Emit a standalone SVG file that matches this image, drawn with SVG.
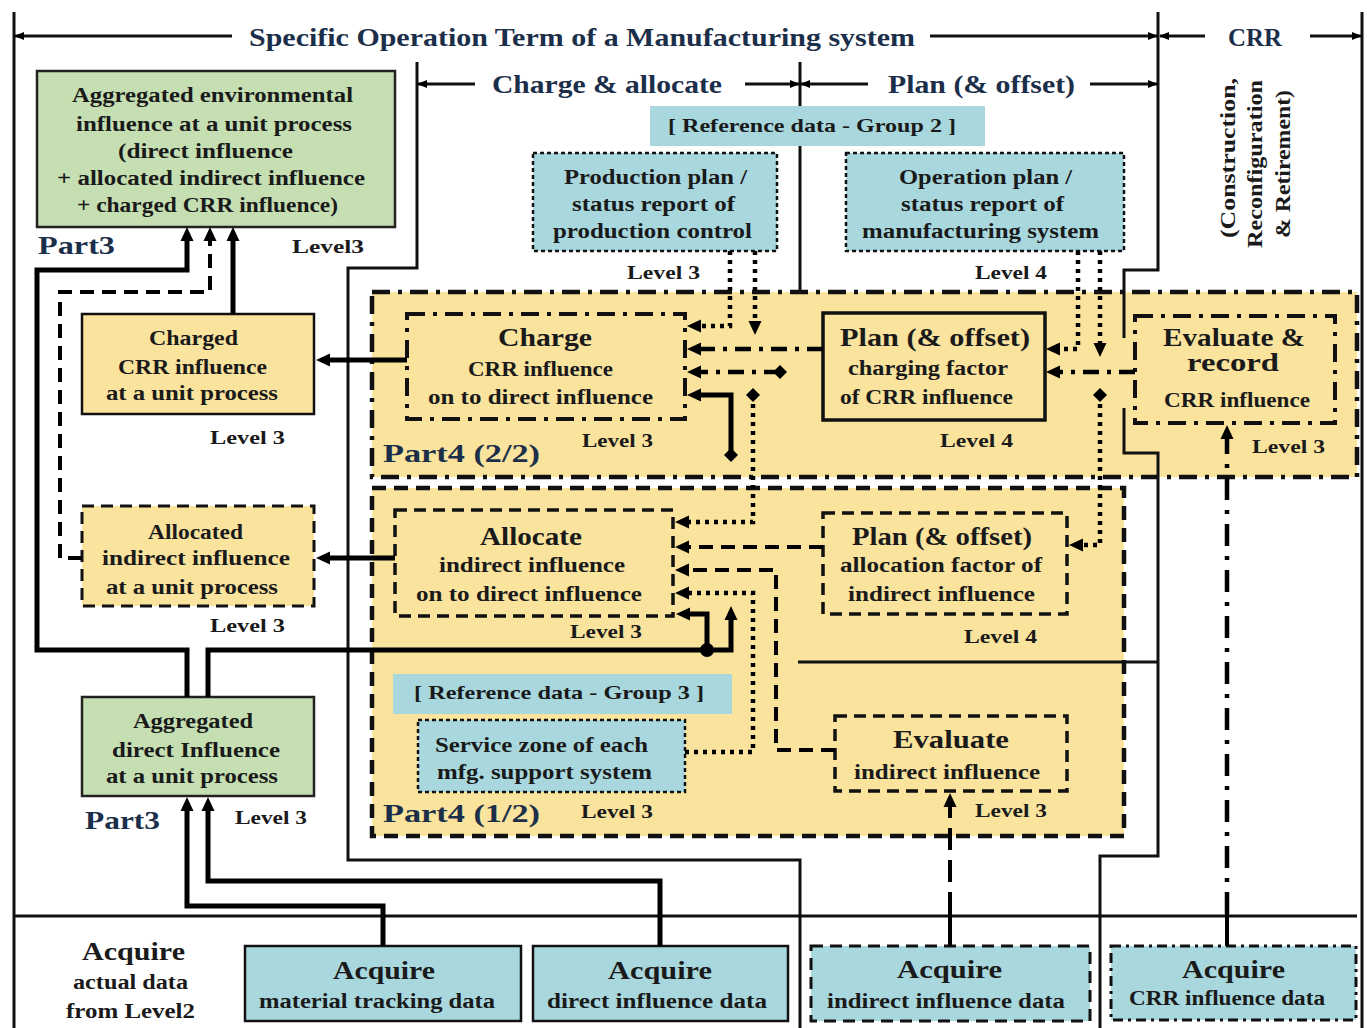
<svg xmlns="http://www.w3.org/2000/svg" width="1367" height="1028" viewBox="0 0 1367 1028">
<defs>
<style>
text{font-family:"Liberation Serif","DejaVu Serif",serif;font-weight:bold;fill:#1a1a1a}
.h{font-size:26px;fill:#1c2f4a}
.b{font-size:25px}
.p{font-size:25px;fill:#1c2f4a}
.m{font-size:20px}
.l{font-size:18px}
.r{font-size:19px}
.frame{fill:none;stroke:#111;stroke-width:3}
.yel{fill:#f9e39d}
.grn{fill:#c5dfb3;stroke:#222;stroke-width:2.5}
.cyn{fill:#a8d8de}
.box-s{fill:none;stroke:#111;stroke-width:2.5}
.box-d{fill:none;stroke:#111;stroke-width:3.5;stroke-dasharray:12 7}
.box-o{fill:none;stroke:#111;stroke-width:2.5;stroke-dasharray:4 3}
.box-dd{fill:none;stroke:#111;stroke-width:4;stroke-dasharray:18 8 4 8}
.c{fill:none;stroke:#000;stroke-width:5}
.cd{fill:none;stroke:#000;stroke-width:4;stroke-dasharray:14 8}
.co{fill:none;stroke:#000;stroke-width:4.5;stroke-dasharray:4 5}
.cdd{fill:none;stroke:#000;stroke-width:4.5;stroke-dasharray:16 8 4 8}
.ct{fill:none;stroke:#000;stroke-width:4}
</style>
<marker id="ar" viewBox="0 0 14 14" refX="2" refY="7" markerWidth="14" markerHeight="14" markerUnits="userSpaceOnUse" orient="auto"><path d="M0,0.5 L14,7 L0,13.5 z" fill="#000"/></marker>
<marker id="as" viewBox="0 0 10 10" refX="9" refY="5" markerWidth="10" markerHeight="10" markerUnits="userSpaceOnUse" orient="auto"><path d="M0,1 L10,5 L0,9 z" fill="#000"/></marker>
<marker id="dm" viewBox="0 0 14 14" refX="7" refY="7" markerWidth="14" markerHeight="15" markerUnits="userSpaceOnUse" orient="auto"><path d="M7,0 L14,7 L7,14 L0,7 z" fill="#000"/></marker>
</defs>

<!-- container regions -->
<g id="part4-2">
<rect class="yel" x="372" y="292" width="985" height="185"/>
<rect class="box-dd" x="372" y="292" width="985" height="185" style="stroke-width:4.5"/>
<text class="p" x="383" y="462" textLength="157" lengthAdjust="spacingAndGlyphs">Part4 (2/2)</text>
</g>
<g id="part4-1">
<rect class="yel" x="372" y="488" width="752" height="348"/>
<rect class="box-d" x="372" y="488" width="752" height="348" style="stroke-width:4.5;stroke-dasharray:14 8"/>
<text class="p" x="383" y="822" textLength="157" lengthAdjust="spacingAndGlyphs">Part4 (1/2)</text>
</g>

<!-- frame / term boundaries -->
<g id="frame">
<path class="frame" d="M14,12 V1028"/>
<path class="frame" d="M1362,12 V1028"/>
<path class="frame" d="M1158,12 V270 H1124 V338"/>
<path class="frame" d="M1124,408 V453 H1158 V856 H1100 V1028"/>
<path class="frame" d="M417,62 V268 H348 V860 H800 V1028"/>
<path class="frame" d="M800,62 V292"/>
<path class="frame" d="M798,662 H1158"/>
<path class="frame" d="M14,916 H1357"/>
<path class="frame" d="M232,36 H15" marker-end="url(#as)"/>
<path class="frame" d="M930,36 H1157" marker-end="url(#as)"/>
<path class="frame" d="M1205,36 H1160" marker-end="url(#as)"/>
<path class="frame" d="M1310,36 H1361" marker-end="url(#as)"/>
<path class="frame" d="M475,84 H418" marker-end="url(#as)"/>
<path class="frame" d="M745,84 H799" marker-end="url(#as)"/>
<path class="frame" d="M868,84 H801" marker-end="url(#as)"/>
<path class="frame" d="M1090,84 H1157" marker-end="url(#as)"/>
<text class="h" x="249" y="46" textLength="666" lengthAdjust="spacingAndGlyphs">Specific Operation Term of a Manufacturing system</text>
<text class="h" x="1228" y="46" textLength="54" lengthAdjust="spacingAndGlyphs">CRR</text>
<text class="h" x="492" y="93" textLength="230" lengthAdjust="spacingAndGlyphs">Charge &amp; allocate</text>
<text class="h" x="888" y="93" textLength="187" lengthAdjust="spacingAndGlyphs">Plan (&amp; offset)</text>
<text class="m" text-anchor="middle" transform="translate(1235,158) rotate(-90)" textLength="160" lengthAdjust="spacingAndGlyphs">(Construction,</text>
<text class="m" text-anchor="middle" transform="translate(1262,164) rotate(-90)" textLength="168" lengthAdjust="spacingAndGlyphs">Reconfiguration</text>
<text class="m" text-anchor="middle" transform="translate(1290,164) rotate(-90)" textLength="148" lengthAdjust="spacingAndGlyphs">&amp; Retirement)</text>
</g>

<!-- nodes -->
<g id="agg-env">
<rect class="grn" x="37" y="71" width="358" height="156"/>
<text class="m" x="72" y="102" textLength="281" lengthAdjust="spacingAndGlyphs">Aggregated environmental</text>
<text class="m" x="76" y="131" textLength="276" lengthAdjust="spacingAndGlyphs">influence at a unit process</text>
<text class="m" x="118" y="158" textLength="175" lengthAdjust="spacingAndGlyphs">(direct influence</text>
<text class="m" x="57" y="185" textLength="308" lengthAdjust="spacingAndGlyphs">+ allocated indirect influence</text>
<text class="m" x="77" y="212" textLength="261" lengthAdjust="spacingAndGlyphs">+ charged CRR influence)</text>
<text class="h" x="38" y="254" textLength="77" lengthAdjust="spacingAndGlyphs">Part3</text>
<text class="l" x="292" y="253" textLength="72" lengthAdjust="spacingAndGlyphs">Level3</text>
</g>

<g id="charged">
<rect class="yel" x="82" y="314" width="232" height="100"/>
<rect class="box-s" x="82" y="314" width="232" height="100"/>
<text class="m" x="149" y="345" textLength="89" lengthAdjust="spacingAndGlyphs">Charged</text>
<text class="m" x="118" y="374" textLength="149" lengthAdjust="spacingAndGlyphs">CRR influence</text>
<text class="m" x="106" y="400" textLength="172" lengthAdjust="spacingAndGlyphs">at a unit process</text>
<text class="l" x="210" y="444" textLength="75" lengthAdjust="spacingAndGlyphs">Level 3</text>
</g>

<g id="allocated">
<rect class="yel" x="82" y="506" width="232" height="100"/>
<rect class="box-d" x="82" y="506" width="232" height="100" style="stroke-width:3"/>
<text class="m" x="148" y="539" textLength="95" lengthAdjust="spacingAndGlyphs">Allocated</text>
<text class="m" x="102" y="565" textLength="188" lengthAdjust="spacingAndGlyphs">indirect influence</text>
<text class="m" x="106" y="594" textLength="172" lengthAdjust="spacingAndGlyphs">at a unit process</text>
<text class="l" x="210" y="632" textLength="75" lengthAdjust="spacingAndGlyphs">Level 3</text>
</g>

<g id="agg-direct">
<rect class="grn" x="82" y="697" width="232" height="99"/>
<text class="m" x="133" y="728" textLength="120" lengthAdjust="spacingAndGlyphs">Aggregated</text>
<text class="m" x="112" y="757" textLength="168" lengthAdjust="spacingAndGlyphs">direct Influence</text>
<text class="m" x="106" y="783" textLength="172" lengthAdjust="spacingAndGlyphs">at a unit process</text>
<text class="h" x="85" y="829" textLength="75" lengthAdjust="spacingAndGlyphs">Part3</text>
<text class="l" x="235" y="824" textLength="72" lengthAdjust="spacingAndGlyphs">Level 3</text>
</g>

<g id="acquire-actual">
<text class="b" x="82" y="960" textLength="103" lengthAdjust="spacingAndGlyphs">Acquire</text>
<text class="m" x="73" y="989" textLength="115" lengthAdjust="spacingAndGlyphs">actual data</text>
<text class="m" x="66" y="1018" textLength="129" lengthAdjust="spacingAndGlyphs">from Level2</text>
</g>

<g id="acquire-material">
<rect class="cyn" x="245" y="946" width="276" height="75"/>
<rect class="box-s" x="245" y="946" width="276" height="75"/>
<text class="b" x="333" y="979" textLength="102" lengthAdjust="spacingAndGlyphs">Acquire</text>
<text class="m" x="259" y="1008" textLength="236" lengthAdjust="spacingAndGlyphs">material tracking data</text>
</g>

<g id="acquire-direct">
<rect class="cyn" x="533" y="946" width="255" height="75"/>
<rect class="box-s" x="533" y="946" width="255" height="75"/>
<text class="b" x="608" y="979" textLength="104" lengthAdjust="spacingAndGlyphs">Acquire</text>
<text class="m" x="547" y="1008" textLength="220" lengthAdjust="spacingAndGlyphs">direct influence data</text>
</g>

<g id="acquire-indirect">
<rect class="cyn" x="811" y="946" width="279" height="75"/>
<rect class="box-d" x="811" y="946" width="279" height="75" style="stroke-width:3"/>
<text class="b" x="897" y="978" textLength="105" lengthAdjust="spacingAndGlyphs">Acquire</text>
<text class="m" x="827" y="1008" textLength="238" lengthAdjust="spacingAndGlyphs">indirect influence data</text>
</g>

<g id="acquire-crr">
<rect class="cyn" x="1111" y="946" width="245" height="74"/>
<rect class="box-dd" x="1111" y="946" width="245" height="74" style="stroke-width:3;stroke-dasharray:10 5 3 5"/>
<text class="b" x="1182" y="978" textLength="103" lengthAdjust="spacingAndGlyphs">Acquire</text>
<text class="m" x="1129" y="1005" textLength="196" lengthAdjust="spacingAndGlyphs">CRR influence data</text>
</g>

<g id="ref-group2">
<rect class="cyn" x="650" y="106" width="335" height="40"/>
<text class="r" x="668" y="132" textLength="288" lengthAdjust="spacingAndGlyphs">[ Reference data - Group 2 ]</text>
</g>

<g id="production-plan">
<rect class="cyn" x="533" y="153" width="244" height="98"/>
<rect class="box-o" x="533" y="153" width="244" height="98"/>
<text class="m" x="564" y="184" textLength="183" lengthAdjust="spacingAndGlyphs">Production plan /</text>
<text class="m" x="572" y="211" textLength="163" lengthAdjust="spacingAndGlyphs">status report of</text>
<text class="m" x="553" y="238" textLength="199" lengthAdjust="spacingAndGlyphs">production control</text>
<text class="l" x="627" y="279" textLength="73" lengthAdjust="spacingAndGlyphs">Level 3</text>
</g>

<g id="operation-plan">
<rect class="cyn" x="846" y="153" width="278" height="98"/>
<rect class="box-o" x="846" y="153" width="278" height="98"/>
<text class="m" x="899" y="184" textLength="173" lengthAdjust="spacingAndGlyphs">Operation plan /</text>
<text class="m" x="901" y="211" textLength="163" lengthAdjust="spacingAndGlyphs">status report of</text>
<text class="m" x="862" y="238" textLength="237" lengthAdjust="spacingAndGlyphs">manufacturing system</text>
<text class="l" x="975" y="279" textLength="72" lengthAdjust="spacingAndGlyphs">Level 4</text>
</g>

<g id="charge">
<rect class="box-dd" x="407" y="314" width="278" height="105"/>
<text class="b" x="498" y="346" textLength="94" lengthAdjust="spacingAndGlyphs">Charge</text>
<text class="m" x="468" y="376" textLength="145" lengthAdjust="spacingAndGlyphs">CRR influence</text>
<text class="m" x="428" y="404" textLength="225" lengthAdjust="spacingAndGlyphs">on to direct influence</text>
<text class="l" x="582" y="447" textLength="71" lengthAdjust="spacingAndGlyphs">Level 3</text>
</g>

<g id="plan-charging">
<rect class="box-s" x="823" y="313" width="222" height="107" style="stroke-width:3.5"/>
<text class="b" x="840" y="346" textLength="190" lengthAdjust="spacingAndGlyphs">Plan (&amp; offset)</text>
<text class="m" x="848" y="375" textLength="160" lengthAdjust="spacingAndGlyphs">charging factor</text>
<text class="m" x="840" y="404" textLength="173" lengthAdjust="spacingAndGlyphs">of CRR influence</text>
<text class="l" x="940" y="447" textLength="73" lengthAdjust="spacingAndGlyphs">Level 4</text>
</g>

<g id="evaluate-record">
<rect class="box-dd" x="1135" y="316" width="200" height="107"/>
<text class="b" x="1163" y="346" textLength="142" lengthAdjust="spacingAndGlyphs">Evaluate &amp;</text>
<text class="b" x="1187" y="371" textLength="92" lengthAdjust="spacingAndGlyphs">record</text>
<text class="m" x="1164" y="407" textLength="146" lengthAdjust="spacingAndGlyphs">CRR influence</text>
<text class="l" x="1252" y="453" textLength="73" lengthAdjust="spacingAndGlyphs">Level 3</text>
</g>

<g id="allocate">
<rect class="box-d" x="395" y="510" width="278" height="106"/>
<text class="b" x="480" y="545" textLength="102" lengthAdjust="spacingAndGlyphs">Allocate</text>
<text class="m" x="439" y="572" textLength="186" lengthAdjust="spacingAndGlyphs">indirect influence</text>
<text class="m" x="416" y="601" textLength="226" lengthAdjust="spacingAndGlyphs">on to direct influence</text>
<text class="l" x="570" y="638" textLength="72" lengthAdjust="spacingAndGlyphs">Level 3</text>
</g>

<g id="plan-allocation">
<rect class="box-d" x="823" y="513" width="244" height="101"/>
<text class="b" x="852" y="545" textLength="180" lengthAdjust="spacingAndGlyphs">Plan (&amp; offset)</text>
<text class="m" x="840" y="572" textLength="202" lengthAdjust="spacingAndGlyphs">allocation factor of</text>
<text class="m" x="848" y="601" textLength="187" lengthAdjust="spacingAndGlyphs">indirect influence</text>
<text class="l" x="964" y="643" textLength="73" lengthAdjust="spacingAndGlyphs">Level 4</text>
</g>

<g id="ref-group3">
<rect class="cyn" x="393" y="674" width="339" height="40"/>
<text class="r" x="414" y="699" textLength="290" lengthAdjust="spacingAndGlyphs">[ Reference data - Group 3 ]</text>
</g>

<g id="service-zone">
<rect class="cyn" x="418" y="720" width="267" height="72"/>
<rect class="box-o" x="418" y="720" width="267" height="72"/>
<text class="m" x="435" y="752" textLength="213" lengthAdjust="spacingAndGlyphs">Service zone of each</text>
<text class="m" x="437" y="779" textLength="215" lengthAdjust="spacingAndGlyphs">mfg. support system</text>
<text class="l" x="581" y="818" textLength="72" lengthAdjust="spacingAndGlyphs">Level 3</text>
</g>

<g id="evaluate-indirect">
<rect class="box-d" x="835" y="716" width="232" height="75"/>
<text class="b" x="893" y="748" textLength="116" lengthAdjust="spacingAndGlyphs">Evaluate</text>
<text class="m" x="854" y="779" textLength="186" lengthAdjust="spacingAndGlyphs">indirect influence</text>
<text class="l" x="975" y="817" textLength="72" lengthAdjust="spacingAndGlyphs">Level 3</text>
</g>

<!-- connectors -->
<g id="connectors">
<path class="c" d="M187,697 V650 H37 V270 H187 V239" marker-end="url(#ar)"/>
<path class="c" d="M208,697 V650 H731 V618" marker-end="url(#ar)"/>
<path class="c" d="M707,650 V614 H688" marker-end="url(#ar)"/>
<circle cx="707" cy="650" r="7" fill="#000"/>
<path class="c" d="M383,946 V906 H187 V809" marker-end="url(#ar)"/>
<path class="c" d="M660,946 V881 H208 V809" marker-end="url(#ar)"/>
<path class="c" d="M233,314 V239" marker-end="url(#ar)"/>
<path class="c" d="M407,360 H328" marker-end="url(#ar)"/>
<path class="c" d="M395,558 H328" marker-end="url(#ar)"/>
<path class="c" d="M731,455 V395 H699" marker-start="url(#dm)" marker-end="url(#ar)"/>
<path class="cd" d="M82,558 H60 V292 H210 V239" marker-end="url(#ar)"/>
<path class="cd" d="M823,547 H687" marker-end="url(#ar)"/>
<path class="cd" d="M835,750 H776 V570 H687" marker-end="url(#ar)"/>
<path class="ct" d="M950,946 V914"/>
<path class="cd" d="M950,914 V805" style="stroke-dasharray:22 10" marker-end="url(#ar)"/>
<path class="co" d="M730,251 V326 H699" marker-end="url(#ar)"/>
<path class="co" d="M755,251 V323" marker-end="url(#ar)"/>
<path class="co" d="M753,395 V522 H687" marker-start="url(#dm)" marker-end="url(#ar)"/>
<path class="co" d="M685,752 H753 V593 H687" marker-end="url(#ar)"/>
<path class="co" d="M1078,251 V349 H1058" marker-end="url(#ar)"/>
<path class="co" d="M1100,251 V345" marker-end="url(#ar)"/>
<path class="co" d="M1100,395 V545 H1081" marker-start="url(#dm)" marker-end="url(#ar)"/>
<path class="cdd" d="M823,349 H699" marker-end="url(#ar)"/>
<path class="cdd" d="M1135,372 H1058" marker-end="url(#ar)"/>
<path class="cdd" d="M780,372 H699" marker-start="url(#dm)" marker-end="url(#ar)"/>
<path class="ct" d="M1227,946 V914"/>
<path class="cdd" d="M1227,914 V437" style="stroke-dasharray:22 10 4 10" marker-end="url(#ar)"/>
</g>
</svg>
